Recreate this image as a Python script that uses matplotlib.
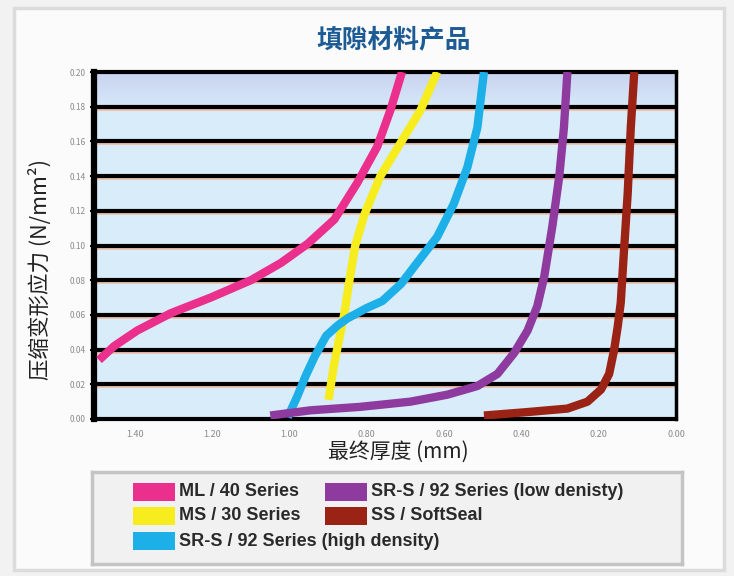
import matplotlib.pyplot as plt
import numpy as np
from matplotlib.patches import Rectangle

plt.rcParams['font.family'] = ['Noto Sans CJK SC', 'DejaVu Sans']

W, H = 734, 576

# curve data: final thickness (mm) vs compressive stress (N/mm2)
ml40_x = [1.493, 1.454, 1.394, 1.307, 1.204, 1.100, 1.022, 0.953, 0.884, 0.825, 0.773, 0.739, 0.709]
ml40_y = [0.034, 0.042, 0.051, 0.061, 0.070, 0.080, 0.090, 0.101, 0.115, 0.136, 0.157, 0.178, 0.200]

ms30_x = [0.899, 0.886, 0.877, 0.858, 0.845, 0.830, 0.806, 0.765, 0.713, 0.661, 0.618]
ms30_y = [0.011, 0.030, 0.040, 0.061, 0.080, 0.100, 0.118, 0.140, 0.159, 0.178, 0.200]

srs_high_x = [1.005, 0.980, 0.958, 0.935, 0.905, 0.875, 0.850, 0.800, 0.760, 0.711,
              0.670, 0.618, 0.575, 0.540, 0.514, 0.505, 0.497]
srs_high_y = [0.001, 0.013, 0.025, 0.036, 0.048, 0.054, 0.058, 0.064, 0.068, 0.078,
              0.090, 0.105, 0.124, 0.145, 0.168, 0.185, 0.200]

srs_low_x = [1.050, 0.946, 0.817, 0.687, 0.592, 0.514, 0.462, 0.419, 0.384, 0.359,
             0.341, 0.320, 0.302, 0.290, 0.281]
srs_low_y = [0.002, 0.005, 0.007, 0.010, 0.014, 0.019, 0.026, 0.038, 0.051, 0.065,
             0.082, 0.111, 0.140, 0.168, 0.200]

ss_x = [0.497, 0.384, 0.281, 0.229, 0.194, 0.173, 0.160, 0.151, 0.143, 0.136, 0.125, 0.117, 0.108]
ss_y = [0.002, 0.004, 0.006, 0.010, 0.017, 0.026, 0.040, 0.053, 0.067, 0.092, 0.130, 0.168, 0.200]

x_ticks = [1.40, 1.20, 1.00, 0.80, 0.60, 0.40, 0.20, 0.00]
y_ticks = [0.00, 0.02, 0.04, 0.06, 0.08, 0.10, 0.12, 0.14, 0.16, 0.18, 0.20]

series = [
    ("ML / 40 Series", ml40_x, ml40_y, "#ea2f8c"),
    ("MS / 30 Series", ms30_x, ms30_y, "#f7ec1d"),
    ("SR-S / 92 Series (high density)", srs_high_x, srs_high_y, "#1db0e8"),
    ("SR-S / 92 Series (low denisty)", srs_low_x, srs_low_y, "#8f3a9f"),
    ("SS / SoftSeal", ss_x, ss_y, "#9b2315"),
]


def fx(px):
    return px / W


def fy(py):
    return 1 - py / H


fig = plt.figure(figsize=(W / 100, H / 100), dpi=100)
fig.patch.set_facecolor("#f2f2f2")

# outer light frame
fig.patches.append(Rectangle((fx(14), fy(570)), fx(724) - fx(14), fy(8) - fy(570),
                             transform=fig.transFigure, facecolor="#fbfbfb",
                             edgecolor="#dcdcdc", lw=2.5, zorder=-5))

ax = fig.add_axes([fx(94), fy(419), fx(676) - fx(94), fy(72) - fy(419)])

# light blue background, fading to lavender at the top
grad = np.linspace(0, 1, 200)
c_bot = np.array([0.85, 0.93, 0.98])
c_top = np.array([0.79, 0.83, 0.94])
w = np.clip((grad - 0.88) / 0.12, 0, 1)[:, None]
img = c_bot * (1 - w) + c_top * w
ax.imshow(img[:, None, :], extent=[1.506, 0.0, 0.0, 0.2], origin="lower",
          aspect="auto", zorder=0, interpolation="bilinear")

for yv in y_ticks[1:-1]:
    ax.axhline(yv - 0.0006, color="#f0b496", lw=3.4, zorder=1, alpha=0.8)
    ax.axhline(yv, color="black", lw=3.0, zorder=2)

order = [2, 1, 0, 3, 4]
for i in order:
    name, xs, ys, col = series[i]
    ax.plot(xs, ys, color=col, lw=6, solid_capstyle="butt",
            solid_joinstyle="round", zorder=3 + i)

ax.set_xlim(1.506, 0.0)
ax.set_ylim(0.0, 0.2)
ax.set_xticks(x_ticks)
ax.set_yticks(y_ticks)
ax.set_xticklabels([f"{v:.2f}" for v in x_ticks], fontsize=6.5, color="#8a8a8a")
ax.set_yticklabels([f"{v:.2f}" for v in y_ticks], fontsize=6, color="#8a8a8a")
ax.tick_params(axis="x", length=0, pad=8)
ax.tick_params(axis="y", length=3, width=1.5, color="black", pad=3)

for side, lw in [("left", 4.5), ("bottom", 3.0), ("top", 3.0), ("right", 2.5)]:
    ax.spines[side].set_linewidth(lw)
    ax.spines[side].set_color("black")

fig.text(fx(394), fy(40), "填隙材料产品", ha="center", va="center",
         fontsize=18.5, color="#1d5b95", fontweight="bold")
fig.text(fx(398), fy(452), "最终厚度 (mm)", ha="center", va="center",
         fontsize=15, color="#222222")
fig.text(fx(40), fy(270), "压缩变形应力 (N/mm²)", ha="center", va="center",
         rotation=90, fontsize=15.5, color="#222222")

# legend box
lax = fig.add_axes([fx(92), fy(564), fx(682) - fx(92), fy(472) - fy(564)])
lax.set_xticks([])
lax.set_yticks([])
lax.set_facecolor("#f1f1f1")
for s in lax.spines.values():
    s.set_color("#c4c4c4")
    s.set_linewidth(2.5)

slots = [(133, 492), (133, 516), (133, 541), (325, 492), (325, 516)]
for (name, xs, ys, col), (px, py) in zip(series, slots):
    fig.patches.append(Rectangle((fx(px), fy(py + 9)), fx(42), 18 / H,
                                 transform=fig.transFigure, facecolor=col,
                                 edgecolor="none", zorder=5))
    fig.text(fx(px + 46), fy(py), name, ha="left", va="center", fontsize=13,
             color="#2a2a2a", family=["Liberation Sans", "DejaVu Sans"],
             fontweight="bold", zorder=6)

fig.savefig("out.png", dpi=100, facecolor=fig.get_facecolor())
